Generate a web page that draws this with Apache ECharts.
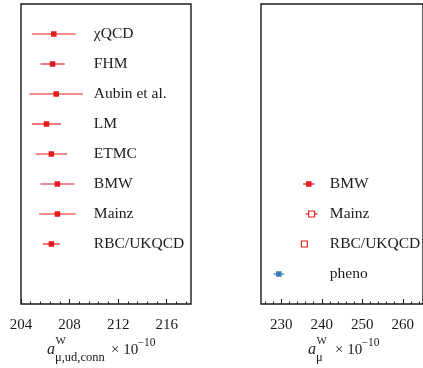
<!DOCTYPE html>
<html><head><meta charset="utf-8">
<script src="https://cdn.jsdelivr.net/npm/echarts@6/dist/echarts.min.js"></script>
<style>html,body{margin:0;padding:0;background:#fff}#c{width:423px;height:368px}</style>
</head><body><div id="c"></div><script>
// ---- data ----
const leftNames = ['χQCD', 'FHM', 'Aubin et al.', 'LM', 'ETMC', 'BMW', 'Mainz', 'RBC/UKQCD'];
const leftValues = [206.7, 206.6, 206.9, 206.1, 206.5, 207.0, 207.0, 206.5];
const leftErrors = [1.8, 1.0, 2.2, 1.2, 1.3, 1.4, 1.5, 0.7];
const leftRows = [1, 2, 3, 4, 5, 6, 7, 8];

const rightNames = ['BMW', 'Mainz', 'RBC/UKQCD', 'pheno'];
const rightValues = [236.8, 237.5, 235.7, 229.4];
const rightErrors = [1.4, 1.5, 0.6, 1.3];
const rightRows = [6, 7, 8, 9];
const rightOpen = [0, 1, 1, 0];
const rightColor = [0, 0, 0, 1];

const leftTicks = [204, 208, 212, 216];
const rightTicks = [230, 240, 250, 260];

// ---- styling ----
const RED = '#e41a1c', BLUE = '#377eb8', INK = '#1a1a1a';
const FONT = '"Liberation Serif", "DejaVu Serif", serif';
const palette = [RED, BLUE];

function minorList(min, max, step, majors) {
  const out = [];
  for (let i = 1; min + i * step < max - 1e-9; i++) {
    const v = +(min + i * step).toFixed(4);
    if (!majors.some(m => Math.abs(m - v) < 1e-6)) out.push(v);
  }
  return out;
}
const leftMinor = minorList(204, 218, 0.8, leftTicks);
const rightMinor = minorList(224, 265, 2, rightTicks);

function makeRender(labelX, names) {
  return function (params, api) {
    const v = api.value(0), e = api.value(1), r = api.value(2);
    const open = api.value(3), ci = api.value(4), ni = api.value(5);
    const col = palette[ci];
    const lo = api.coord([v - e, r]), hi = api.coord([v + e, r]), c = api.coord([v, r]);
    const t = api.coord([labelX, r]);
    const s = open ? 6 : 5.5;
    return {
      type: 'group',
      children: [
        { type: 'line', shape: { x1: lo[0], y1: lo[1], x2: hi[0], y2: hi[1] },
          style: { stroke: col, lineWidth: 1.2 } },
        { type: 'rect', shape: { x: c[0] - s / 2, y: c[1] - s / 2, width: s, height: s },
          style: open ? { fill: '#fff', stroke: col, lineWidth: 1.1 } : { fill: col } },
        { type: 'text', x: t[0], y: t[1],
          style: { text: names[ni], fill: INK, font: '15.5px ' + FONT, verticalAlign: 'middle', align: 'left' } }
      ]
    };
  };
}

const leftData = leftValues.map((v, i) => [v, leftErrors[i], leftRows[i], 0, 0, i]);
const rightData = rightValues.map((v, i) => [v, rightErrors[i], rightRows[i], rightOpen[i], rightColor[i], i]);

const tickStyle = { color: INK, width: 1 };
function xMain(grid, min, max, ticks) {
  return {
    type: 'value', gridIndex: grid, min: min, max: max, position: 'bottom',
    axisLine: { show: false, onZero: false }, splitLine: { show: false },
    axisTick: { show: true, inside: true, length: 5, lineStyle: tickStyle, customValues: ticks },
    axisLabel: { show: true, customValues: ticks, color: INK, fontFamily: FONT, fontSize: 15, margin: 14 }
  };
}
function xMinor(grid, min, max, ticks) {
  return {
    type: 'value', gridIndex: grid, min: min, max: max, position: 'bottom', offset: 0,
    axisLine: { show: false, onZero: false }, splitLine: { show: false }, axisLabel: { show: false },
    axisTick: { show: true, inside: true, length: 2.5, lineStyle: tickStyle, customValues: ticks }
  };
}

const chart = echarts.init(document.getElementById('c'), null, { renderer: 'canvas' });
chart.setOption({
  animation: false,
  backgroundColor: '#fff',
  grid: [
    { left: 21, top: 4, width: 170, height: 300, show: true, borderColor: INK, borderWidth: 1.4, backgroundColor: 'transparent' },
    { left: 261, top: 4, width: 169, height: 300, show: true, borderColor: INK, borderWidth: 1.4, backgroundColor: 'transparent' }
  ],
  xAxis: [
    xMain(0, 204, 218, leftTicks),
    xMinor(0, 204, 218, leftMinor),
    xMain(1, 225, 265, rightTicks),
    xMinor(1, 225, 265, rightMinor)
  ],
  yAxis: [
    { type: 'value', gridIndex: 0, min: 0, max: 10, inverse: true, show: false, axisLine: { onZero: false } },
    { type: 'value', gridIndex: 1, min: 0, max: 10, inverse: true, show: false, axisLine: { onZero: false } }
  ],
  series: [
    { type: 'custom', xAxisIndex: 0, yAxisIndex: 0, data: leftData, encode: { x: 0, y: 2 },
      renderItem: makeRender(210.0, leftNames), clip: false },
    { type: 'custom', xAxisIndex: 2, yAxisIndex: 1, data: rightData, encode: { x: 0, y: 2 },
      renderItem: makeRender(242.0, rightNames), clip: false }
  ],
  graphic: [
    { type: 'text', x: 47, y: 350, style: { text: 'a', font: 'italic 16px ' + FONT, fill: INK, verticalAlign: 'middle' } },
    { type: 'text', x: 55.5, y: 341, style: { text: 'W', font: '11px ' + FONT, fill: INK, verticalAlign: 'middle' } },
    { type: 'text', x: 55, y: 358, style: { text: 'μ,ud,conn', font: '12.5px ' + FONT, fill: INK, verticalAlign: 'middle' } },
    { type: 'text', x: 111, y: 350, style: { text: '× 10', font: '15px ' + FONT, fill: INK, verticalAlign: 'middle' } },
    { type: 'text', x: 137.5, y: 343, style: { text: '−10', font: '11.5px ' + FONT, fill: INK, verticalAlign: 'middle' } },

    { type: 'text', x: 308, y: 350, style: { text: 'a', font: 'italic 16px ' + FONT, fill: INK, verticalAlign: 'middle' } },
    { type: 'text', x: 316.5, y: 341, style: { text: 'W', font: '11px ' + FONT, fill: INK, verticalAlign: 'middle' } },
    { type: 'text', x: 316, y: 358, style: { text: 'μ', font: '12.5px ' + FONT, fill: INK, verticalAlign: 'middle' } },
    { type: 'text', x: 335, y: 350, style: { text: '× 10', font: '15px ' + FONT, fill: INK, verticalAlign: 'middle' } },
    { type: 'text', x: 361.5, y: 343, style: { text: '−10', font: '11.5px ' + FONT, fill: INK, verticalAlign: 'middle' } }
  ]
});
</script></body></html>
